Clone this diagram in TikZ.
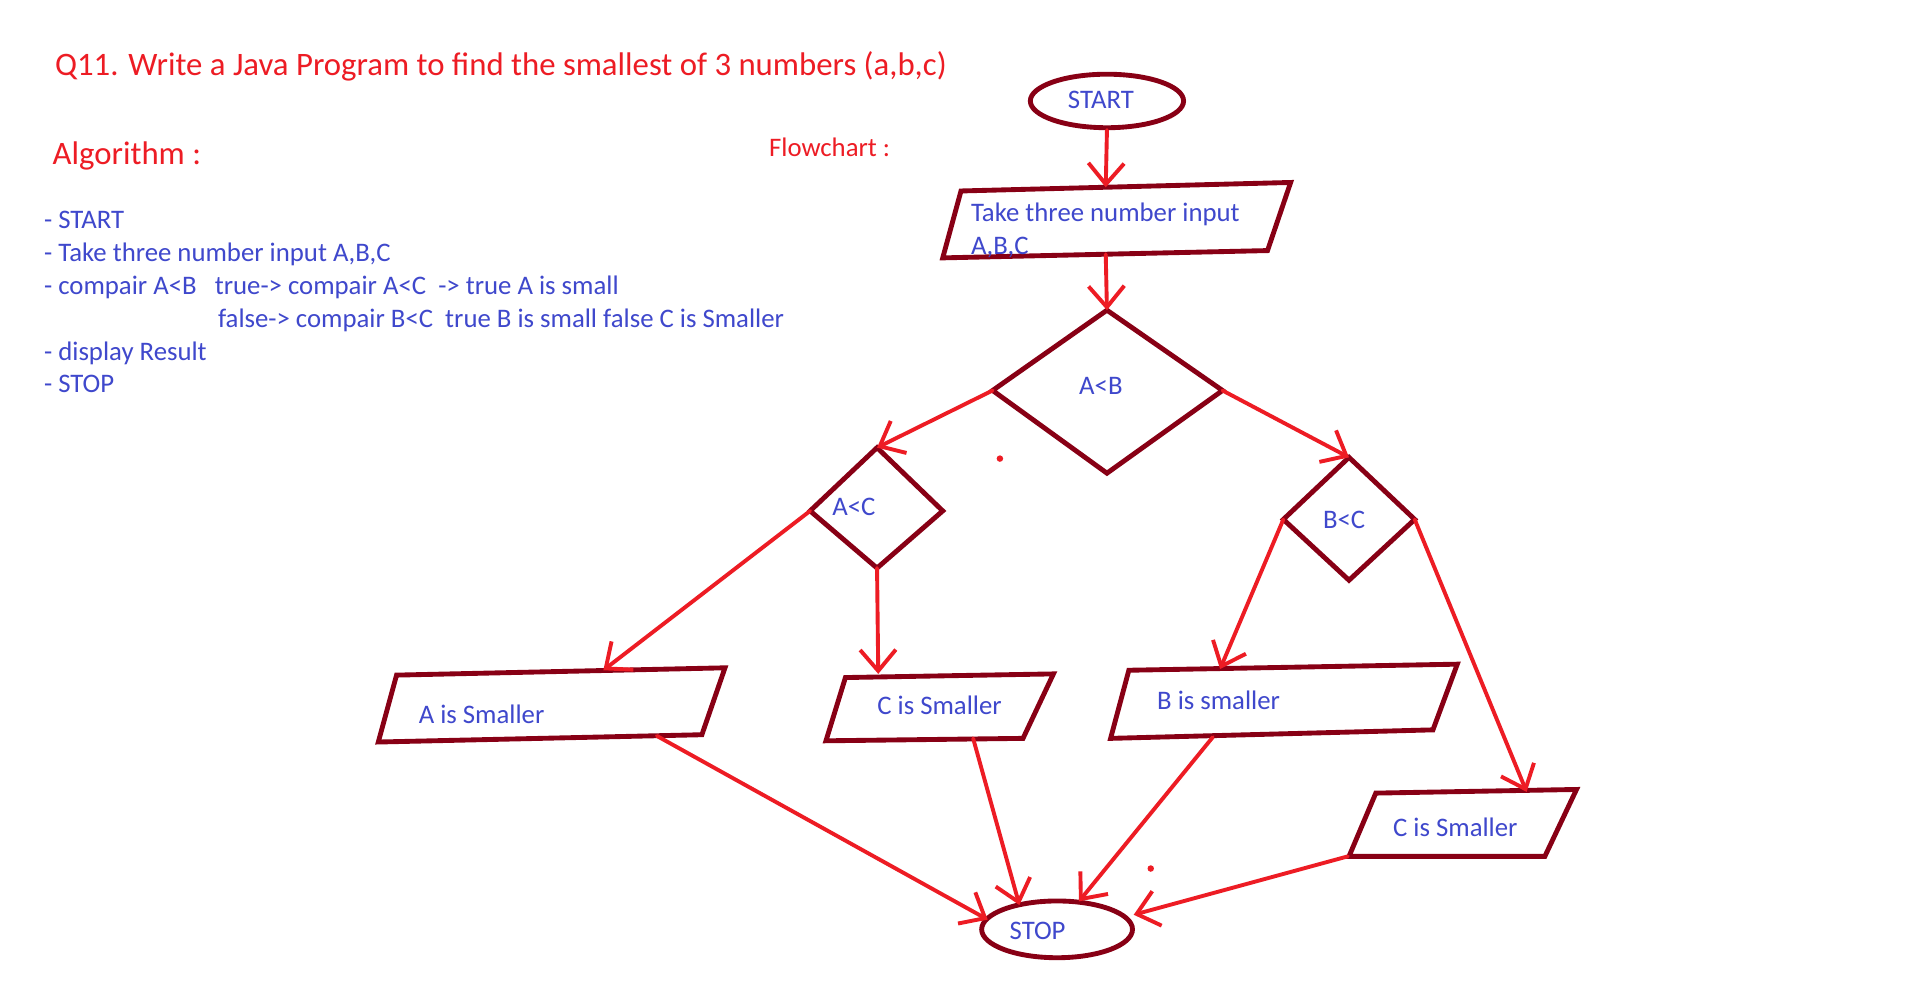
\documentclass[tikz,border=0pt]{standalone}
\usepackage{fontspec}
\setmainfont{Carlito}
\usetikzlibrary{arrows.meta,shapes.geometric}
\definecolor{dred}{HTML}{880015}
\definecolor{pred}{HTML}{ED1C24}
\definecolor{pblue}{HTML}{3F48CC}
\begin{document}
\begin{tikzpicture}[x=0.75pt,y=-0.75pt,
  shapeline/.style={draw=dred,line width=3pt,line join=miter,line cap=round},
  flow/.style={draw=pred,line width=2.4pt,line cap=round,
    -{Straight Barb[length=13pt,width=22pt,line width=2.4pt]}},
  lbl/.style={text=pblue,font=\fontsize{16.5}{20}\selectfont,inner sep=0pt},
  title/.style={text=pred,font=\fontsize{20.2}{24}\selectfont,inner sep=0pt,anchor=base west},
  algo/.style={lbl,anchor=base west},
  ovalbox/.style={ellipse,draw=dred,line width=3pt,inner sep=0pt}
]
\path[use as bounding box] (0,0) rectangle (1571,817);
\fill[white] (0,0) rectangle (1571,817);

% headings
\node[title] (q) at (45,62) {Q11. Write a Java Program to find the smallest of 3 numbers (a,b,c)};
\node[title] (alg) at (43,135) {Algorithm :};
\node[algo,text=pred] (fc) at (632,129) {Flowchart :};

% algorithm list
\node[algo] (l1) at (36,188) {- START};
\node[algo] (l2) at (36,215) {- Take three number input A,B,C};
\node[algo] (l3) at (36,242) {- compair A<B\ \ \ true-> compair A<C\ \ -> true A is small};
\node[algo] (l4) at (179,269) {false-> compair B<C\ \ true B is small false C is Smaller};
\node[algo] (l5) at (36,296) {- display Result};
\node[algo] (l6) at (36,323) {- STOP};

% START
\node[ovalbox,minimum width=94.5pt,minimum height=33pt] (start) at (910,83) {};
\node[lbl] (startt) at (905,82) {START};

% input parallelogram
\coordinate (i1) at (790,157);
\coordinate (i2) at (1061,150);
\coordinate (i3) at (1042,206);
\coordinate (i4) at (775,212);
\draw[shapeline] (i1) -- (i2) -- (i3) -- (i4) -- cycle;
\node[algo] (int1) at (798,182) {Take three number input};
\node[algo] (int2) at (798,209) {A,B,C};
\coordinate (in-t) at (909,154);
\coordinate (in-b) at (909,209);

% A<B
\coordinate (ab-t) at (910,255);
\coordinate (ab-l) at (816,321);
\coordinate (ab-r) at (1005,321);
\coordinate (ab-b) at (910,389);
\draw[shapeline] (ab-t) -- (ab-r) -- (ab-b) -- (ab-l) -- cycle;
\node[lbl] (abt) at (905,317) {A<B};

% A<C
\coordinate (ac-t) at (721,368);
\coordinate (ac-l) at (666,420);
\coordinate (ac-r) at (775,420);
\coordinate (ac-b) at (721,467);
\draw[shapeline] (ac-t) -- (ac-r) -- (ac-b) -- (ac-l) -- cycle;
\node[lbl] (act) at (702,417) {A<C};

% B<C
\coordinate (bc-t) at (1109,376);
\coordinate (bc-l) at (1055,427);
\coordinate (bc-r) at (1163,427);
\coordinate (bc-b) at (1109,477);
\draw[shapeline] (bc-t) -- (bc-r) -- (bc-b) -- (bc-l) -- cycle;
\node[lbl] (bct) at (1105,427) {B<C};

% A is Smaller
\draw[shapeline] (326,555) -- (596,549) -- (577,604) -- (311,610) -- cycle;
\node[lbl,anchor=west] (as) at (344,587) {A is Smaller};
\coordinate (as-t) at (496,551);
\coordinate (as-b) at (540,605);

% C is Smaller (1)
\draw[shapeline] (695,557) -- (866,554) -- (841,607) -- (679,609) -- cycle;
\node[lbl,anchor=west] (cs1) at (721,580) {C is Smaller};
\coordinate (cs1-t) at (722,554);
\coordinate (cs1-b) at (800,607);

% B is smaller
\draw[shapeline] (928,551) -- (1198,546) -- (1178,600) -- (913,607) -- cycle;
\node[lbl,anchor=west] (bs) at (951,576) {B is smaller};
\coordinate (bs-t) at (1003,550);
\coordinate (bs-b) at (997,606);

% C is Smaller (2)
\draw[shapeline] (1131,652) -- (1296,649) -- (1270,704) -- (1109,704) -- cycle;
\node[lbl,anchor=west] (cs2) at (1145,680) {C is Smaller};
\coordinate (cs2-t) at (1255,651);
\coordinate (cs2-b) at (1108,704);

% STOP
\node[ovalbox,minimum width=93pt,minimum height=35pt] (stop) at (869,764) {};
\node[lbl] (stopt) at (853,765) {STOP};
\coordinate (st-l) at (812,756);
\coordinate (st-tl) at (838,744);
\coordinate (st-tr) at (887,741);
\coordinate (st-r) at (932,752);

% stray dots
\fill[pred] (822,377) circle (2pt);
\fill[pred] (946,714) circle (2pt);

% connectors
\draw[flow] (start.south) -- (in-t);
\draw[flow] (in-b) -- (ab-t);
\draw[flow] (ab-l) -- (ac-t);
\draw[flow] (ab-r) -- (bc-t);
\draw[flow] (ac-l) -- (as-t);
\draw[flow] (ac-b) -- (cs1-t);
\draw[flow] (bc-l) -- (bs-t);
\draw[flow] (bc-r) -- (cs2-t);
\draw[flow] (as-b) -- (st-l);
\draw[flow] (cs1-b) -- (st-tl);
\draw[flow] (bs-b) -- (st-tr);
\draw[flow] (cs2-b) -- (st-r);
\end{tikzpicture}
\end{document}
